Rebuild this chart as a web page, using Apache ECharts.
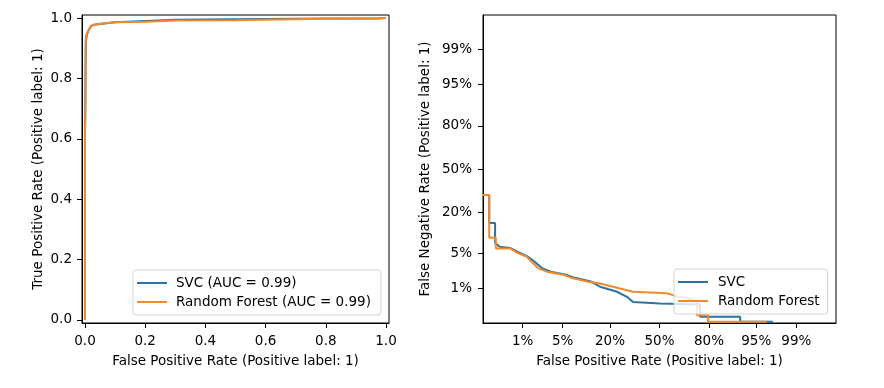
<!DOCTYPE html>
<html>
<head>
<meta charset="utf-8">
<script src="https://cdn.jsdelivr.net/npm/echarts@6/dist/echarts.min.js"></script>
<style>html,body{margin:0;padding:0;background:#fff}#c{width:884px;height:388px}</style>
</head>
<body>
<div id="c"></div>
<script>
// ---------- DATA (rates in percent) ----------
// ROC curves (left panel)
const rocFpr    = [0, 0, 0.1, 0.2, 0.3, 0.5, 1, 2, 3, 5, 10, 20, 30, 50, 80, 97, 100];
const svcRocTpr = [0, 62, 69.4, 85.4, 92.5, 93.8, 95.6, 97.3, 97.8, 98.0, 98.6, 99.0, 99.4, 99.56, 99.8, 99.85, 100];
const rfRocTpr  = [0, 62, 69.4, 91.0, 93.9, 93.9, 95.6, 97.3, 97.8, 98.1, 98.6, 98.8, 99.16, 99.3, 99.78, 99.85, 100];

// DET curves (right panel)
const svcDetFpr = [0.11, 0.19, 0.19, 0.26, 0.26, 0.33, 0.55, 0.80, 1.27, 1.71, 2.28, 3.36, 5.4, 7.5, 12.5, 15.6, 23.5, 29.0, 32.6, 50.3, 69.8, 75.5, 75.5, 91.5, 91.5, 97.3];
const svcDetFnr = [30.6, 30.6, 14.6, 14.6, 7.46, 6.5, 6.2, 5.3, 4.37, 3.5, 2.68, 2.23, 2.0, 1.70, 1.40, 1.09, 0.84, 0.64, 0.48, 0.44, 0.42, 0.42, 0.20, 0.20, 0.146, 0.146];
const rfDetFpr  = [0.11, 0.19, 0.19, 0.27, 0.27, 0.55, 0.80, 1.21, 1.38, 1.94, 2.9, 5.4, 6.8, 11.2, 15.6, 25.1, 32.6, 55.1, 61.7, 73.8, 73.8, 79.5, 79.5, 96.6];
const rfDetFnr  = [30.6, 30.6, 9.0, 9.0, 6.1, 6.1, 5.08, 4.37, 3.8, 2.68, 2.23, 1.94, 1.68, 1.40, 1.29, 1.0, 0.84, 0.77, 0.66, 0.53, 0.22, 0.22, 0.146, 0.146];

// Tick labels
const rocTicks = [0, 0.2, 0.4, 0.6, 0.8, 1.0];
const detTicks = [0.01, 0.05, 0.20, 0.5, 0.80, 0.95, 0.99];
const detTickLabels = ['1%', '5%', '20%', '50%', '80%', '95%', '99%'];

const rocNames = ['SVC (AUC = 0.99)', 'Random Forest (AUC = 0.99)'];
const detNames = ['SVC', 'Random Forest'];
// --------------------------------------------------------------------

// inverse normal CDF (probit) – the DET axis scale
function probit(p){
  const a=[-3.969683028665376e+01,2.209460984245205e+02,-2.759285104469687e+02,1.383577518672690e+02,-3.066479806614716e+01,2.506628277459239e+00];
  const b=[-5.447609879822406e+01,1.615858368580409e+02,-1.556989798598866e+02,6.680131188771972e+01,-1.328068155288572e+01];
  const c=[-7.784894002430293e-03,-3.223964580411365e-01,-2.400758277161838e+00,-2.549732539343734e+00,4.374664141464968e+00,2.938163982698783e+00];
  const d=[7.784695709041462e-03,3.224671290700398e-01,2.445134137142996e+00,3.754408661907416e+00];
  const pl=0.02425, ph=1-pl; let q,r;
  if(p<pl){q=Math.sqrt(-2*Math.log(p));return (((((c[0]*q+c[1])*q+c[2])*q+c[3])*q+c[4])*q+c[5])/((((d[0]*q+d[1])*q+d[2])*q+d[3])*q+1);}
  if(p<=ph){q=p-0.5;r=q*q;return (((((a[0]*r+a[1])*r+a[2])*r+a[3])*r+a[4])*r+a[5])*q/(((((b[0]*r+b[1])*r+b[2])*r+b[3])*r+b[4])*r+1);}
  q=Math.sqrt(-2*Math.log(1-p));return -(((((c[0]*q+c[1])*q+c[2])*q+c[3])*q+c[4])*q+c[5])/((((d[0]*q+d[1])*q+d[2])*q+d[3])*q+1);
}

const BLUE = '#2a73a4', ORANGE = '#f08a2c';
const FONT = 'DejaVu Sans';
const FS = 13.5;
const detTickPos = detTicks.map(probit);

function rocPairs(fpr, tpr){ return fpr.map((v,i)=>[v/100, tpr[i]/100]); }
function detPairs(fpr, fnr){ return fpr.map((v,i)=>[probit(v/100), probit(fnr[i]/100)]); }
function labelOf(v){
  for (let i=0;i<detTickPos.length;i++) if (Math.abs(detTickPos[i]-v)<1e-6) return detTickLabels[i];
  return '';
}

const axisCommon = {
  axisLine: {show: true, onZero: false, lineStyle: {color: '#000', width: 1}},
  axisTick: {show: true, length: 5, lineStyle: {color: '#000', width: 1}},
  splitLine: {show: false},
  nameLocation: 'middle',
  nameTextStyle: {fontFamily: FONT, fontSize: FS, color: '#000'}
};

const chart = echarts.init(document.getElementById('c'), null, {renderer: 'canvas'});
chart.setOption({
  animation: false,
  backgroundColor: '#fff',
  textStyle: {fontFamily: FONT},
  grid: [
    {left: 82, right: 495, top: 15, bottom: 65, show: true, borderColor: '#000', borderWidth: 1, backgroundColor: 'transparent'},
    {left: 483, right: 48, top: 15, bottom: 65, show: true, borderColor: '#000', borderWidth: 1, backgroundColor: 'transparent'}
  ],
  xAxis: [
    Object.assign({}, axisCommon, {
      type: 'value', gridIndex: 0, min: -0.01, max: 1.01,
      name: 'False Positive Rate (Positive label: 1)', nameGap: 31,
      axisTick: Object.assign({}, axisCommon.axisTick, {customValues: rocTicks}),
      axisLabel: {customValues: rocTicks, margin: 11, color: '#000', fontFamily: FONT, fontSize: FS, formatter: v => v.toFixed(1)}
    }),
    Object.assign({}, axisCommon, {
      type: 'value', gridIndex: 1, min: -3, max: 3,
      name: 'False Positive Rate (Positive label: 1)', nameGap: 31,
      axisTick: Object.assign({}, axisCommon.axisTick, {customValues: detTickPos}),
      axisLabel: {customValues: detTickPos, margin: 11, color: '#000', fontFamily: FONT, fontSize: FS, formatter: labelOf}
    })
  ],
  yAxis: [
    Object.assign({}, axisCommon, {
      type: 'value', gridIndex: 0, min: -0.01, max: 1.01,
      name: 'True Positive Rate (Positive label: 1)', nameGap: 37,
      axisTick: Object.assign({}, axisCommon.axisTick, {customValues: rocTicks}),
      axisLabel: {customValues: rocTicks, margin: 10, color: '#000', fontFamily: FONT, fontSize: FS, formatter: v => v.toFixed(1)}
    }),
    Object.assign({}, axisCommon, {
      type: 'value', gridIndex: 1, min: -3, max: 3,
      name: 'False Negative Rate (Positive label: 1)', nameGap: 51,
      axisTick: Object.assign({}, axisCommon.axisTick, {customValues: detTickPos}),
      axisLabel: {customValues: detTickPos, margin: 11, color: '#000', fontFamily: FONT, fontSize: FS, formatter: labelOf}
    })
  ],
  legend: [
    {
      data: rocNames, orient: 'vertical', left: 133, top: 270,
      icon: 'rect', itemWidth: 30, itemHeight: 2, itemGap: 5,
      padding: [6, 10, 6, 4],
      backgroundColor: 'rgba(255,255,255,0.8)', borderColor: '#d3d3d3', borderWidth: 1, borderRadius: 3,
      textStyle: {fontFamily: FONT, fontSize: FS, color: '#000', padding: [0, 0, 0, 4]}
    },
    {
      data: detNames, orient: 'vertical', left: 674, top: 269,
      icon: 'rect', itemWidth: 30, itemHeight: 2, itemGap: 5,
      padding: [6, 8, 6, 4],
      backgroundColor: 'rgba(255,255,255,0.8)', borderColor: '#d3d3d3', borderWidth: 1, borderRadius: 3,
      textStyle: {fontFamily: FONT, fontSize: FS, color: '#000', padding: [0, 0, 0, 5]}
    }
  ],
  series: [
    {name: rocNames[0], type: 'line', xAxisIndex: 0, yAxisIndex: 0, data: rocPairs(rocFpr, svcRocTpr),
     showSymbol: false, symbol: 'none', color: BLUE, lineStyle: {color: BLUE, width: 2}, z: 2},
    {name: rocNames[1], type: 'line', xAxisIndex: 0, yAxisIndex: 0, data: rocPairs(rocFpr, rfRocTpr),
     showSymbol: false, symbol: 'none', color: ORANGE, lineStyle: {color: ORANGE, width: 2}, z: 3},
    {name: detNames[0], type: 'line', xAxisIndex: 1, yAxisIndex: 1, data: detPairs(svcDetFpr, svcDetFnr),
     showSymbol: false, symbol: 'none', color: BLUE, lineStyle: {color: BLUE, width: 2}, z: 2, clip: true},
    {name: detNames[1], type: 'line', xAxisIndex: 1, yAxisIndex: 1, data: detPairs(rfDetFpr, rfDetFnr),
     showSymbol: false, symbol: 'none', color: ORANGE, lineStyle: {color: ORANGE, width: 2}, z: 3, clip: true}
  ]
});
</script>
</body>
</html>
